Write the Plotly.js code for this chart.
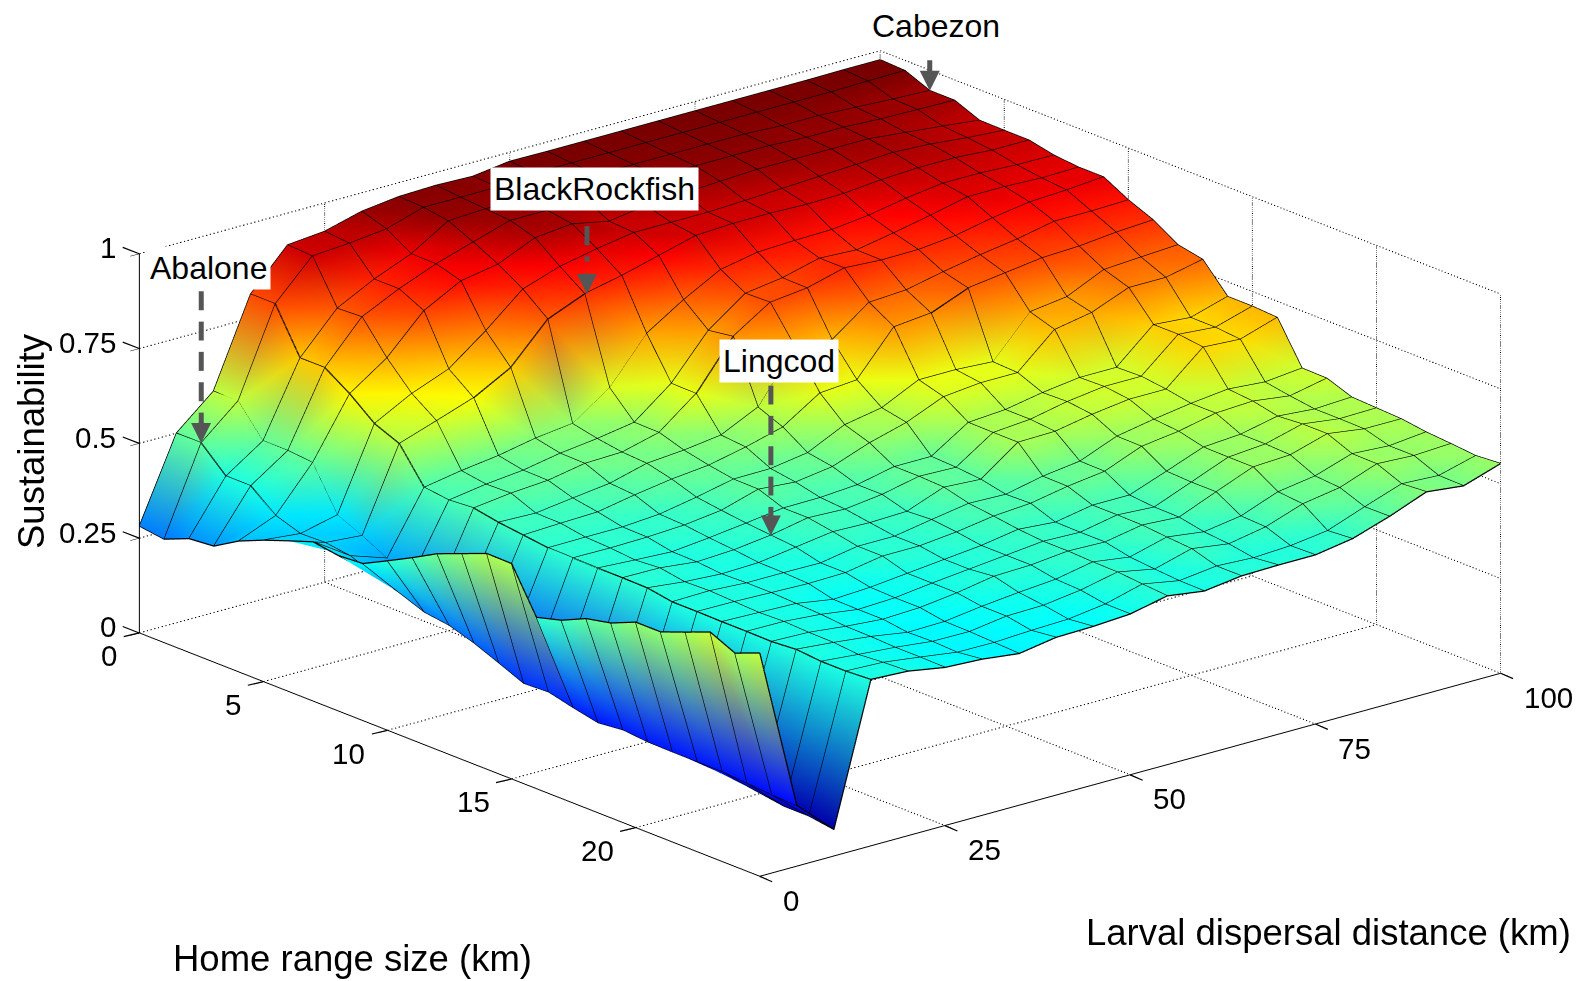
<!DOCTYPE html>
<html><head><meta charset="utf-8">
<script src="https://cdn.plot.ly/plotly-3.0.1.min.js"></script>
<style>html,body{margin:0;padding:0;background:#fff}#p{width:1579px;height:981px}</style></head>
<body><div id="p"></div>
<script>
const homeRange=[0,1,2,3,4,5,6,7,8,9,10,11,12,13,14,15,16,17,18,19,20,21,22,23,24,25];
const larval=[0,5,10,15,20,25,30,35,40,45,50,55,60,65,70,75,80,85,90,95,100];
const homeTicks=[0,5,10,15,20];
const homeGrid=[5,10,15,20];
const larvalTicks=[0,25,50,75,100];
const larvalGrid=[25,50,75];
const zTicks=[0,0.25,0.5,0.75,1];
const L0=[.282,.273,.30,.306,.345,.373,.397,.42,.41,.414,.447,.481,.517,.543,.569,.568,.452,.47,.50,.514,.542,.542,.567,.593,.563,.589];
const L5=[.5,.5,.438,.438,.385,.363,.365,.356,.33,.31,.285,.276,.255,.228,.2,.203,.187,.173,.18,.174,.173,.173,.173,.168,.163,.16];
const L10=[.584,.584,.504,.504,.498,.386,.357,.323,.3,.28,.27,.25,.23,.21,.19,.17,.16,.14,.13,.12,.11,.1,.09,.08,.08,.07];
const L15=[.813,.813,.696,.696,.653,.6,.573,.483,.475,.48,.468,.46,.452,.451,.45,.45,.449,.438,.438,.437,.437,.436,.441,.435,.435,.439];
const L20=[.916,.912,.80,.803,.72,.652,.606,.50,.49,.492,.465,.464,.453,.45,.444,.449,.438,.44,.437,.434,.436,.433,.432,.426,.431,.434];
const L25=[.925,.919,.85,.85,.818,.69,.64,.513,.5,.499,.478,.467,.453,.452,.439,.438,.432,.434,.434,.431,.428,.422,.421,.418,.418,.417];
const L30=[.951,.93,.89,.889,.87,.764,.693,.532,.518,.517,.49,.485,.46,.457,.449,.443,.435,.434,.431,.415,.414,.414,.405,.407,.404,.412];
const L35=[.963,.96,.95,.92,.887,.847,.794,.544,.53,.52,.516,.5,.478,.469,.461,.455,.449,.433,.433,.42,.418,.418,.407,.406,.403,.40];
const L40=[.966,.96,.955,.95,.93,.88,.834,.612,.546,.545,.524,.51,.499,.498,.474,.474,.463,.45,.45,.43,.43,.43,.42,.42,.408,.416];
const L45=[.963,.96,.955,.95,.94,.9,.855,.728,.622,.621,.537,.531,.50,.49,.475,.47,.46,.45,.45,.44,.44,.447,.43,.422,.411,.418];
const L50=[.976,.97,.965,.955,.92,.916,.881,.79,.735,.745,.584,.557,.515,.504,.482,.482,.463,.467,.46,.45,.45,.45,.438,.435,.424,.424];
const L55=[.975,.97,.965,.955,.935,.916,.907,.843,.806,.808,.716,.62,.562,.54,.503,.503,.5,.483,.475,.466,.46,.46,.457,.456,.45,.445];
const L60=[.975,.97,.965,.96,.94,.916,.912,.862,.82,.819,.708,.628,.58,.567,.503,.5,.494,.48,.482,.458,.457,.457,.443,.437,.432,.431];
const L65=[.975,.97,.965,.96,.945,.92,.912,.866,.845,.845,.78,.741,.627,.608,.566,.565,.565,.501,.5,.476,.476,.475,.469,.464,.444,.444];
const L70=[.975,.97,.965,.96,.95,.925,.909,.868,.84,.839,.786,.751,.627,.618,.573,.573,.567,.514,.513,.476,.47,.469,.456,.45,.439,.446];
const L75=[.975,.97,.965,.96,.95,.93,.911,.879,.858,.84,.807,.79,.621,.618,.591,.593,.585,.553,.552,.512,.509,.509,.471,.468,.444,.446];
const L80=[.975,.97,.96,.955,.95,.935,.92,.897,.878,.85,.825,.803,.726,.705,.604,.606,.598,.571,.565,.549,.548,.548,.508,.502,.457,.462];
const L85=[.975,.97,.96,.955,.95,.94,.925,.91,.90,.87,.84,.816,.739,.723,.604,.606,.598,.586,.586,.556,.556,.553,.523,.518,.493,.494];
const L90=[.975,.97,.955,.95,.94,.935,.925,.91,.90,.885,.86,.82,.784,.762,.69,.69,.682,.597,.591,.577,.582,.582,.555,.554,.527,.532];
const L95=[.976,.972,.95,.948,.93,.925,.918,.905,.896,.89,.86,.83,.79,.762,.682,.682,.676,.589,.578,.569,.569,.568,.549,.549,.522,.521];
const L100=[.976,.973,.946,.946,.919,.918,.918,.904,.898,.898,.863,.836,.796,.783,.711,.711,.707,.599,.598,.574,.571,.568,.559,.554,.548,.553];
const sustainability=[L0,L5,L10,L15,L20,L25,L30,L35,L40,L45,L50,L55,L60,L65,L70,L75,L80,L85,L90,L95,L100];
const speciesNames=['Abalone','BlackRockfish','Lingcod','Cabezon'];
const speciesHome=[1,5.2,15,2];
const speciesLarval=[5,43,35,100];
const speciesTip=[.5,.797,.455,.946];
const speciesTop=[.9,.976,.85,.946];
const colorStops=[0,.05,.15,.41,.645,.88,.98,1];
const colorRGB=[[0,0,96],[0,0,143],[0,0,255],[0,255,255],[255,255,0],[255,0,0],[112,0,0],[112,0,0]];
function jetColor(v){
  let k=0;while(k<colorStops.length-2&&v>colorStops[k+1])k++;
  const t=Math.min(1,Math.max(0,(v-colorStops[k])/(colorStops[k+1]-colorStops[k])));
  const c=colorRGB[k].map((a,m)=>Math.round(a+(colorRGB[k+1][m]-a)*t));
  return 'rgb('+c.join(',')+')';
}
const mx=[],my=[],mz=[],mc=[],mi=[],mj=[],mk=[];
const nH=homeRange.length,nL=larval.length;
larval.forEach((l,a)=>homeRange.forEach((h,b)=>{mx.push(h);my.push(l);mz.push(sustainability[a][b]);mc.push(jetColor(sustainability[a][b]));}));
for(let a=0;a<nL-1;a++)for(let b=0;b<nH-1;b++){
  const p=a*nH+b,q=p+1,r=p+nH,s=r+1;
  mi.push(p,p);mj.push(q,s);mk.push(s,r);
}
const traces=[{type:'mesh3d',x:mx,y:my,z:mz,i:mi,j:mj,k:mk,vertexcolor:mc,hoverinfo:'skip',showscale:false,flatshading:false,
  lighting:{ambient:1,diffuse:0,specular:0,fresnel:0,roughness:1}}];
const wx=[],wy=[],wz=[];
larval.forEach((l,a)=>{homeRange.forEach((h,b)=>{wx.push(h);wy.push(l);wz.push(sustainability[a][b]);});wx.push(null);wy.push(null);wz.push(null);});
homeRange.forEach((h,b)=>{larval.forEach((l,a)=>{wx.push(h);wy.push(l);wz.push(sustainability[a][b]);});wx.push(null);wy.push(null);wz.push(null);});
traces.push({type:'scatter3d',mode:'lines',x:wx,y:wy,z:wz,connectgaps:false,line:{color:'#000',width:2.5},hoverinfo:'skip',showlegend:false});
function dotted(xs,ys,zs){traces.push({type:'scatter3d',mode:'lines',x:xs,y:ys,z:zs,line:{color:'#000',width:2,dash:'dot'},hoverinfo:'skip',showlegend:false});}
const hMax=homeRange[homeRange.length-1], lMax=larval[larval.length-1];
homeGrid.forEach(h=>{dotted([h,h],[0,lMax],[0,0]);dotted([h,h],[lMax,lMax],[0,1]);});
larvalGrid.forEach(l=>{dotted([0,hMax],[l,l],[0,0]);dotted([0,0],[l,l],[0,1]);});
zTicks.forEach(z=>{dotted([0,0],[0,lMax],[z,z]);dotted([0,hMax],[lMax,lMax],[z,z]);});
dotted([0,0],[0,0],[0,1]);dotted([0,0],[lMax,lMax],[0,1]);dotted([hMax,hMax],[lMax,lMax],[0,1]);
speciesNames.forEach((n,i)=>{
  if(speciesTop[i]<=speciesTip[i]) return;
  const zs=[];let top=speciesTop[i];const end=speciesTip[i]+.05;
  while(top>end){zs.push(top,Math.max(top-.05,end),null);top-=.08;}
  traces.push({type:'scatter3d',mode:'lines',x:zs.map(()=>speciesHome[i]),y:zs.map(()=>speciesLarval[i]),z:zs,connectgaps:false,line:{color:'#555',width:10},hoverinfo:'skip',showlegend:false});
});

const axis=(tv,range)=>({range:range,tickvals:tv,showticklabels:false,showgrid:false,zeroline:false,showbackground:false,showspikes:false,showline:true,linecolor:'#000',linewidth:2,ticks:'outside',ticklen:12,tickcolor:'#000',tickwidth:1,title:{text:''}});
const fam='Liberation Sans, Arial, sans-serif';
const sceneAnn=[];
const tickFont={family:fam,size:29.5,color:'#000'};
const tickMark=(x,y,z,ax,ay)=>({x:x,y:y,z:z,text:'',showarrow:true,arrowhead:0,arrowwidth:1.2,arrowcolor:'#000',ax:ax,ay:ay,standoff:0});
homeTicks.forEach(h=>{sceneAnn.push(tickMark(h,0,0,-17,4));sceneAnn.push({x:h,y:0,z:0,text:String(h),showarrow:false,xanchor:'right',yanchor:'middle',xshift:-20,yshift:-23,font:tickFont});});
larvalTicks.forEach(l=>{sceneAnn.push(tickMark(hMax,l,0,14,6));sceneAnn.push({x:hMax,y:l,z:0,text:String(l),showarrow:false,xanchor:'left',yanchor:'middle',xshift:21,yshift:-24,font:tickFont});});
zTicks.forEach(z=>{sceneAnn.push(tickMark(0,0,z,-18,-7));sceneAnn.push({x:0,y:0,z:z,text:String(z),showarrow:false,xanchor:'right',yanchor:'middle',xshift:-21,yshift:6,font:tickFont});});
speciesNames.forEach((n,i)=>{
  sceneAnn.push({x:speciesHome[i],y:speciesLarval[i],z:speciesTip[i],text:'',showarrow:true,arrowhead:2,arrowsize:.8,arrowwidth:5,arrowcolor:'#555',ax:0,ay:i==3?-32:-22,standoff:0});
});
const labelOffsets=[[7,-175],[8,-105],[8,-174],[6,-65]];
speciesNames.forEach((n,i)=>{
  sceneAnn.push({x:speciesHome[i],y:speciesLarval[i],z:speciesTip[i],text:n,showarrow:false,bgcolor:'#fff',xshift:labelOffsets[i][0],yshift:-labelOffsets[i][1],font:{family:fam,size:32,color:'#000'},borderpad:3});
});
const tt={family:fam,size:36.5,color:'#000'};
const layout={width:1579,height:981,margin:{l:0,r:0,t:0,b:0},paper_bgcolor:'#fff',showlegend:false,
 scene:{domain:{x:[0.0385,1],y:[0.055,1]},aspectmode:'manual',aspectratio:{x:2.087,y:2.083,z:.866},
  camera:{projection:{type:'orthographic'},up:{x:0,y:0,z:1},center:{x:0,y:0,z:0},eye:{x:1.45,y:-1.212,z:.656}},
  xaxis:axis(homeTicks,[0,25]),yaxis:axis(larvalTicks,[0,100]),zaxis:axis(zTicks,[0,1]),annotations:sceneAnn},
 annotations:[
  {xref:'paper',yref:'paper',xanchor:'center',yanchor:'middle',x:352/1579,y:1-958/981,text:'Home range size (km)',showarrow:false,font:tt},
  {xref:'paper',yref:'paper',xanchor:'center',yanchor:'middle',x:1328/1579,y:1-932/981,text:'Larval dispersal distance (km)',showarrow:false,font:tt},
  {xref:'paper',yref:'paper',xanchor:'center',yanchor:'middle',x:32/1579,y:1-441/981,text:'Sustainability',textangle:-90,showarrow:false,font:tt}
 ]};
Plotly.newPlot('p',traces,layout,{displayModeBar:false});
</script></body></html>
